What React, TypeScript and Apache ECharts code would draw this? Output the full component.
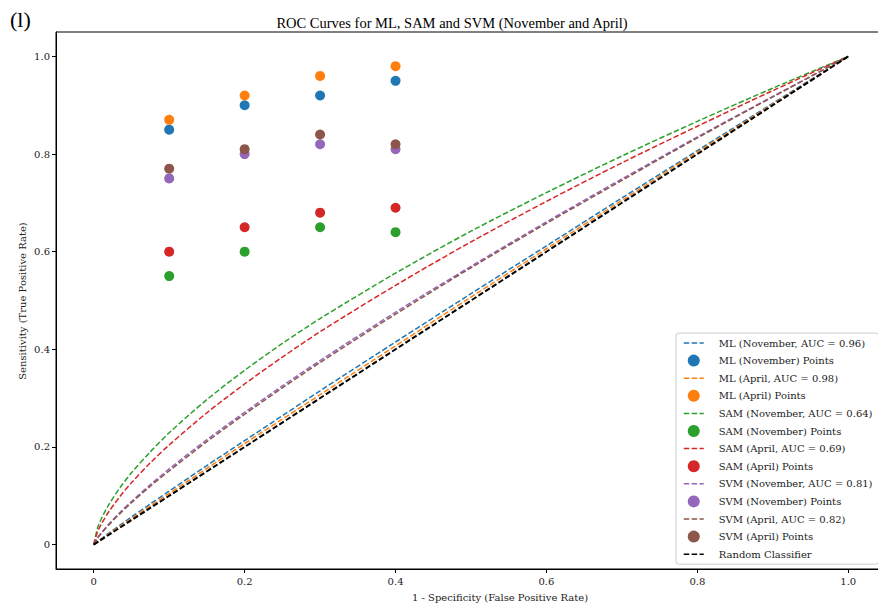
import React, { useEffect, useRef } from "react";
import * as echarts from "echarts";

// False positive rate sample points for the curves
const fpr = [0, 0.005, 0.01, 0.02, 0.035, 0.05, 0.075, 0.1, 0.15, 0.2, 0.25, 0.3, 0.4, 0.5, 0.6, 0.7, 0.8, 0.9, 1.0];

const mlNovCurve = [0, 0.0062, 0.012, 0.0234, 0.04, 0.0564, 0.0832, 0.1096, 0.162, 0.213, 0.264, 0.315, 0.415, 0.514, 0.612, 0.71, 0.807, 0.904, 1];
const mlAprCurve = [0, 0.0056, 0.011, 0.0216, 0.0374, 0.0531, 0.079, 0.1047, 0.156, 0.207, 0.257, 0.307, 0.407, 0.507, 0.606, 0.705, 0.804, 0.902, 1];
const samNovCurve = [0, 0.0337, 0.0525, 0.0818, 0.117, 0.147, 0.19, 0.229, 0.297, 0.357, 0.412, 0.463, 0.556, 0.642, 0.721, 0.796, 0.867, 0.935, 1];
const samAprCurve = [0, 0.0258, 0.0417, 0.0673, 0.099, 0.1266, 0.1675, 0.204, 0.27, 0.329, 0.384, 0.436, 0.531, 0.62, 0.703, 0.782, 0.857, 0.93, 1];
const svmNovCurve = [0, 0.0137, 0.024, 0.0421, 0.0662, 0.0883, 0.1227, 0.155, 0.215, 0.271, 0.325, 0.377, 0.476, 0.57, 0.661, 0.749, 0.835, 0.918, 1];
const svmAprCurve = [0, 0.013, 0.0229, 0.0404, 0.064, 0.0857, 0.1195, 0.151, 0.211, 0.267, 0.321, 0.373, 0.472, 0.567, 0.658, 0.746, 0.833, 0.917, 1];

const randomX = [0, 1];
const randomY = [0, 1];

// Operating points
const pointFpr = [0.1, 0.2, 0.3, 0.4];
const mlNovPts = [0.85, 0.9, 0.92, 0.95];
const mlAprPts = [0.87, 0.92, 0.96, 0.98];
const samNovPts = [0.55, 0.6, 0.65, 0.64];
const samAprPts = [0.6, 0.65, 0.68, 0.69];
const svmNovPts = [0.75, 0.8, 0.82, 0.81];
const svmAprPts = [0.77, 0.81, 0.84, 0.82];

const tickValues = [0, 0.2, 0.4, 0.6, 0.8, 1.0];

const COLORS = {
  blue: "#1f77b4",
  orange: "#ff7f0e",
  green: "#2ca02c",
  red: "#d62728",
  purple: "#9467bd",
  brown: "#8c564b",
};

const zip = (xs: number[], ys: number[]) => xs.map((x, i) => [x, ys[i]]);

const SERIF = "DejaVu Serif";
const TIMES = "Liberation Serif";
const DASH = [5.5, 2.4];

export default function App() {
  const ref = useRef<HTMLDivElement>(null);

  useEffect(() => {
    document.body.style.margin = "0";
    document.body.style.overflow = "hidden";
    if (!ref.current) return;
    const chart = echarts.init(ref.current, undefined, { renderer: "svg" });

    const lineSeries = (name: string, xs: number[], ys: number[], color: string, width = 1.5) => ({
      name,
      type: "line",
      data: zip(xs, ys),
      smooth: 0.3,
      showSymbol: false,
      symbol: "none",
      lineStyle: { color, width, type: DASH },
      itemStyle: { color },
      emphasis: { disabled: true },
    });
    const scatterSeries = (name: string, ys: number[], color: string) => ({
      name,
      type: "scatter",
      data: zip(pointFpr, ys),
      symbol: "circle",
      symbolSize: 10,
      itemStyle: { color, opacity: 1 },
      emphasis: { disabled: true },
    });

    const series: any[] = [
      lineSeries("ML (November, AUC = 0.96)", fpr, mlNovCurve, COLORS.blue),
      scatterSeries("ML (November) Points", mlNovPts, COLORS.blue),
      lineSeries("ML (April, AUC = 0.98)", fpr, mlAprCurve, COLORS.orange),
      scatterSeries("ML (April) Points", mlAprPts, COLORS.orange),
      lineSeries("SAM (November, AUC = 0.64)", fpr, samNovCurve, COLORS.green),
      scatterSeries("SAM (November) Points", samNovPts, COLORS.green),
      lineSeries("SAM (April, AUC = 0.69)", fpr, samAprCurve, COLORS.red),
      scatterSeries("SAM (April) Points", samAprPts, COLORS.red),
      lineSeries("SVM (November, AUC = 0.81)", fpr, svmNovCurve, COLORS.purple),
      scatterSeries("SVM (November) Points", svmNovPts, COLORS.purple),
      lineSeries("SVM (April, AUC = 0.82)", fpr, svmAprCurve, COLORS.brown),
      scatterSeries("SVM (April) Points", svmAprPts, COLORS.brown),
      lineSeries("Random Classifier", randomX, randomY, "#000000", 2),
    ];

    const fmt = (v: number) => (v === 0 ? "0" : v.toFixed(1));

    chart.setOption({
      animation: false,
      backgroundColor: "#ffffff",
      title: {
        text: "ROC Curves for ML, SAM and SVM (November and April)",
        left: 447,
        top: 10,
        textAlign: "center",
        textStyle: { fontFamily: TIMES, fontSize: 14.5, fontWeight: "normal", color: "#000" },
      },
      grid: {
        left: 56,
        top: 32,
        width: 830,
        height: 537,
        show: true,
        borderColor: "#000",
        borderWidth: 1,
        backgroundColor: "transparent",
      },
      xAxis: {
        type: "value",
        min: -0.05,
        max: 1.05,
        splitLine: { show: false },
        axisLine: { show: true, onZero: false, lineStyle: { color: "#000", width: 1 } },
        axisTick: { show: true, customValues: tickValues, length: 4, lineStyle: { color: "#000" } },
        axisLabel: {
          customValues: tickValues,
          formatter: fmt,
          fontFamily: SERIF,
          fontSize: 10,
          color: "#222",
          margin: 7,
        },
      },
      yAxis: {
        type: "value",
        min: -0.05,
        max: 1.05,
        splitLine: { show: false },
        axisLine: { show: true, onZero: false, lineStyle: { color: "#000", width: 1 } },
        axisTick: { show: true, customValues: tickValues, length: 4, lineStyle: { color: "#000" } },
        axisLabel: {
          customValues: tickValues,
          formatter: fmt,
          fontFamily: SERIF,
          fontSize: 10,
          color: "#222",
          margin: 6,
        },
      },
      legend: {
        orient: "vertical",
        left: 676,
        top: 333,
        padding: [4, 6, 4, 7],
        itemGap: 5.6,
        itemWidth: 20,
        itemHeight: 12,
        backgroundColor: "rgba(255,255,255,0.85)",
        borderColor: "#cccccc",
        borderWidth: 1,
        borderRadius: 3,
        textStyle: {
          fontFamily: SERIF,
          fontSize: 10,
          color: "#222",
          lineHeight: 12,
          padding: [0, 0, 0, 10],
        },
        data: series.map((s) =>
          s.type === "line"
            ? {
                name: s.name,
                itemStyle: { opacity: 0 },
                lineStyle: { type: DASH, width: 1.5, color: s.lineStyle.color },
              }
            : { name: s.name, icon: "circle" }
        ),
      },
      graphic: [
        {
          type: "text",
          left: 10,
          top: 8,
          style: { text: "(l)", fontFamily: TIMES, fontSize: 22, fill: "#000" },
        },
        {
          type: "text",
          x: 500,
          y: 597,
          style: {
            text: "1 - Specificity (False Positive Rate)",
            fontFamily: SERIF,
            fontSize: 10,
            fill: "#222",
            textAlign: "center",
            textVerticalAlign: "middle",
          },
        },
        {
          type: "text",
          x: 22,
          y: 301,
          rotation: Math.PI / 2,
          style: {
            text: "Sensitivity (True Positive Rate)",
            fontFamily: SERIF,
            fontSize: 10,
            fill: "#222",
            textAlign: "center",
            textVerticalAlign: "middle",
          },
        },
      ],
      series,
    });

    return () => chart.dispose();
  }, []);

  return <div ref={ref} style={{ width: 890, height: 605 }} />;
}
